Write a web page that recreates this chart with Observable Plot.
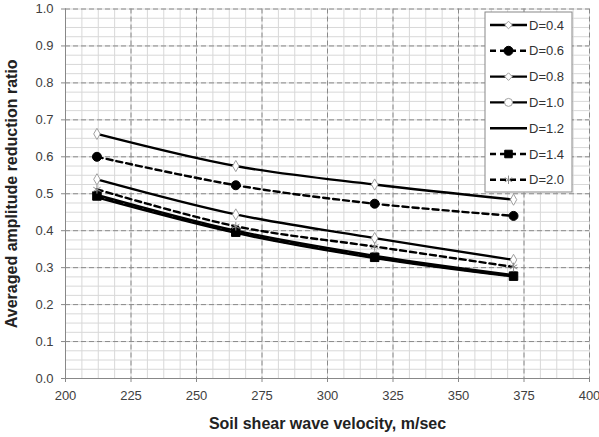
<!DOCTYPE html>
<html>
<head>
<meta charset="utf-8">
<script src="https://cdn.jsdelivr.net/npm/d3@7"></script>
<script src="https://cdn.jsdelivr.net/npm/@observablehq/plot@0.6"></script>
<style>
  html, body { margin: 0; padding: 0; background: #fff; }
  #chart { position: relative; width: 599px; height: 437px; }
</style>
</head>
<body>
<div id="chart"></div>
<script>
// ---- data ----
const velocity = [212, 265, 318, 371];
const seriesNames = ["D=0.4", "D=0.6", "D=0.8", "D=1.0", "D=1.2", "D=1.4", "D=2.0"];
const ratioD04 = [0.662, 0.575, 0.525, 0.484];
const ratioD06 = [0.600, 0.523, 0.473, 0.440];
const ratioD08 = [0.539, 0.444, 0.380, 0.321];
const ratioD10 = [0.497, 0.400, 0.332, 0.280];
const ratioD12 = [0.490, 0.394, 0.326, 0.276];
const ratioD14 = [0.494, 0.396, 0.328, 0.277];
const ratioD20 = [0.512, 0.412, 0.357, 0.302];
const xTicks = [200, 225, 250, 275, 300, 325, 350, 375, 400];
const yTicks = [0, 0.1, 0.2, 0.3, 0.4, 0.5, 0.6, 0.7, 0.8, 0.9, 1.0];
const xLabel = "Soil shear wave velocity, m/sec";
const yLabel = "Averaged amplitude reduction ratio";

const seriesValues = [ratioD04, ratioD06, ratioD08, ratioD10, ratioD12, ratioD14, ratioD20];
const rows = [];
seriesNames.forEach((s, i) => velocity.forEach((v, j) => rows.push({series: s, v, r: seriesValues[i][j]})));

// ---- styles ----
const styles = {
  "D=0.4": {dash: null, symbol: "diamond", r: 3.4, fill: "white", stroke: "#a0a0a0"},
  "D=0.6": {dash: "6,4", symbol: "circle", r: 4.5, fill: "black", stroke: "black"},
  "D=0.8": {dash: null, symbol: "diamond", r: 3.4, fill: "white", stroke: "#a0a0a0"},
  "D=1.0": {dash: null, symbol: "circle", r: 4, fill: "white", stroke: "#a0a0a0"},
  "D=1.2": {dash: null, symbol: null},
  "D=1.4": {dash: "6,4", symbol: "square", r: 4.8, fill: "black", stroke: "black"},
  "D=2.0": {dash: "6,4", symbol: "asterisk", r: 4, fill: "none", stroke: "#909090"}
};

const minorX = d3.range(200, 400.001, 6.25);
const minorY = d3.range(0, 1.0001, 0.025);

const marks = [
  Plot.gridX(minorX, {stroke: "#d8d8d8", strokeOpacity: 1}),
  Plot.gridY(minorY, {stroke: "#d8d8d8", strokeOpacity: 1}),
  Plot.gridX(xTicks, {stroke: "#8a8a8a", strokeOpacity: 1, strokeDasharray: "5,3"}),
  Plot.gridY(yTicks, {stroke: "#8a8a8a", strokeOpacity: 1, strokeDasharray: "5,3"}),
  Plot.ruleX([200], {stroke: "#888"}),
  Plot.ruleY([0], {stroke: "#888"}),
  Plot.axisX({ticks: xTicks, tickSize: 4, tickPadding: 8, tickFormat: d => String(d),
              stroke: "#888", fill: "#404040", label: null}),
  Plot.axisY({ticks: yTicks, tickSize: 4, tickPadding: 8, tickFormat: d3.format(".1f"),
              stroke: "#888", fill: "#404040", label: null}),
];

seriesNames.forEach(s => {
  const st = styles[s];
  const data = rows.filter(d => d.series === s);
  marks.push(Plot.line(data, {x: "v", y: "r", stroke: "black", strokeWidth: 2.4,
    strokeDasharray: st.dash || undefined, curve: "catmull-rom"}));
  if (st.symbol) {
    marks.push(Plot.dot(data, {x: "v", y: "r", symbol: st.symbol, r: st.r,
      fill: st.fill, stroke: st.stroke, strokeWidth: 1}));
  }
});

marks.push(Plot.text([yLabel], {frameAnchor: "left", text: d => d, rotate: -90, dx: -54,
  textAnchor: "middle", fontWeight: "bold", fontSize: 16, fill: "#222"}));
marks.push(Plot.text([xLabel], {frameAnchor: "bottom", text: d => d, dy: 50,
  textAnchor: "middle", fontWeight: "bold", fontSize: 16, fill: "#222"}));

const chart = Plot.plot({
  width: 599,
  height: 437,
  marginLeft: 65,
  marginRight: 10,
  marginTop: 8.5,
  marginBottom: 59,
  x: {domain: [200, 400]},
  y: {domain: [0, 1]},
  style: {fontFamily: "'Liberation Sans', Arial, sans-serif", fontSize: "13px", background: "white", overflow: "visible"},
  marks
});
document.getElementById("chart").appendChild(chart);

// ---- legend (inside the plot, top right) ----
const svg = d3.select(chart);
const lg = svg.append("g").attr("text-anchor", "start");
const lx = 485, ly = 12, lw = 87, lh = 180;
lg.append("rect").attr("x", lx).attr("y", ly).attr("width", lw).attr("height", lh)
  .attr("fill", "white").attr("stroke", "#888");
const symMap = {diamond: d3.symbolDiamond2, circle: d3.symbolCircle, square: d3.symbolSquare2, asterisk: d3.symbolAsterisk};
seriesNames.forEach((s, i) => {
  const st = styles[s];
  const cy = ly + 13 + i * 25.8;
  lg.append("line").attr("x1", lx + 5).attr("x2", lx + 42).attr("y1", cy).attr("y2", cy)
    .attr("stroke", "black").attr("stroke-width", 2.4)
    .attr("stroke-dasharray", st.dash || null);
  if (st.symbol) {
    lg.append("path")
      .attr("d", d3.symbol(symMap[st.symbol], Math.PI * st.r * st.r)())
      .attr("transform", `translate(${lx + 23.5},${cy})`)
      .attr("fill", st.fill).attr("stroke", st.stroke).attr("stroke-width", 1);
  }
  lg.append("text").attr("x", lx + 44).attr("y", cy).attr("dy", "0.35em")
    .attr("text-anchor", "start")
    .attr("fill", "#333").attr("font-size", 13).text(s);
});
</script>
</body>
</html>
